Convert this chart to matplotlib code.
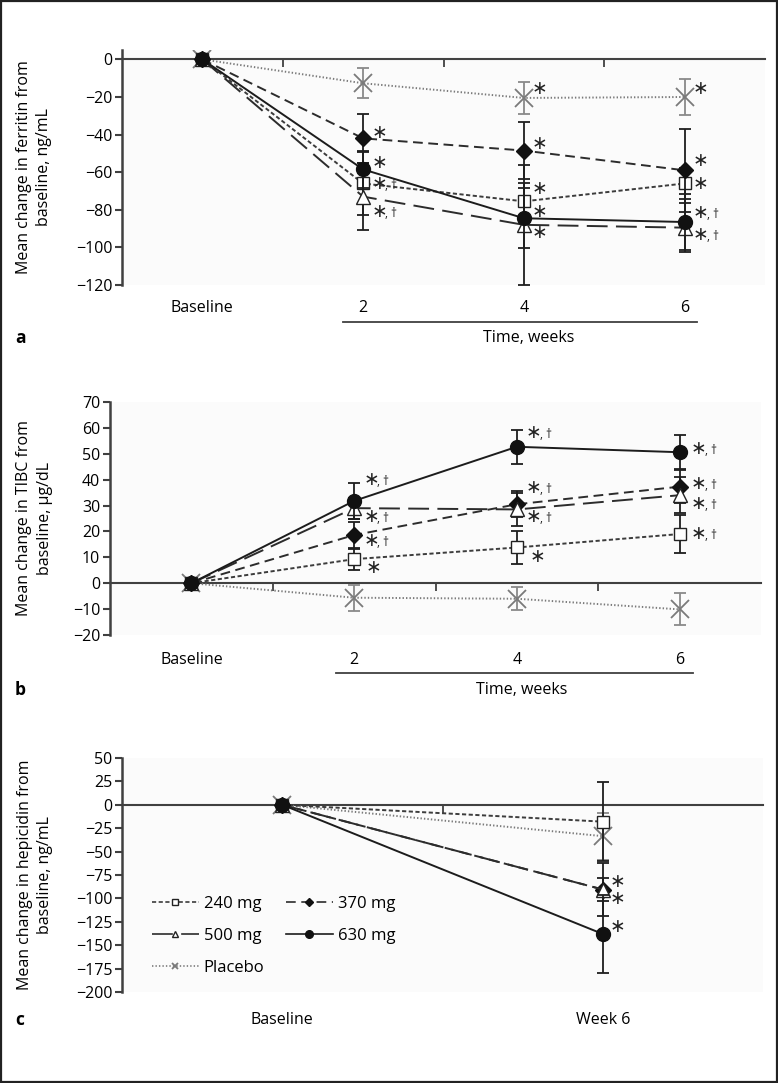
import matplotlib.pyplot as plt
from matplotlib.lines import Line2D
from matplotlib.patches import Rectangle
from matplotlib.transforms import blended_transform_factory

plt.rcParams["font.family"] = ["Open Sans", "DejaVu Sans"]
plt.rcParams["font.size"] = 10
plt.rcParams["lines.scale_dashes"] = False

groups = ["240 mg", "370 mg", "500 mg", "630 mg", "Placebo"]
draw_order = ["Placebo", "240 mg", "370 mg", "500 mg", "630 mg"]

# panel a: ferritin, ng/mL
weeks = ["Baseline", "2", "4", "6"]
ferritin = {
    "240 mg": [0, -66, -75.5, -66],
    "370 mg": [0, -42, -48.5, -59],
    "500 mg": [0, -73, -88, -89.5],
    "630 mg": [0, -58.5, -84.5, -86.5],
    "Placebo": [0, -12.7, -20.5, -20],
}
ferritin_err = {
    "240 mg": [0, 17, 10, 8],
    "370 mg": [0, 13, 15, 22],
    "500 mg": [0, 18, 32, 13],
    "630 mg": [0, 10, 16, 15],
    "Placebo": [0, 8, 8.5, 9.8],
}

# panel b: TIBC, ug/dL
tibc = {
    "240 mg": [0, 9.3, 13.8, 19],
    "370 mg": [0, 18.6, 30.5, 37.3],
    "500 mg": [0, 29, 28.5, 34],
    "630 mg": [0, 31.8, 52.7, 50.6],
    "Placebo": [0, -5.6, -6, -10.1],
}
tibc_err = {
    "240 mg": [0, 4, 6.5, 7.5],
    "370 mg": [0, 5, 5, 6.5],
    "500 mg": [0, 4, 6.5, 7],
    "630 mg": [0, 7, 6.6, 6.5],
    "Placebo": [0, 5, 4.4, 6.2],
}

# panel c: hepcidin, ng/mL
visits = ["Baseline", "Week 6"]
hepcidin = {
    "240 mg": [0, -18],
    "370 mg": [0, -90.5],
    "500 mg": [0, -90.5],
    "630 mg": [0, -138],
    "Placebo": [0, -33.5],
}
hepcidin_err = {
    "240 mg": [0, 42],
    "370 mg": [0, 12],
    "500 mg": [0, 28],
    "630 mg": [0, 41.5],
    "Placebo": [0, 25],
}

# significance marks: (group, visit index, with dagger)
sig_a = [("Placebo", 2, False), ("Placebo", 3, False),
         ("370 mg", 1, False), ("370 mg", 2, False), ("370 mg", 3, False),
         ("630 mg", 1, False), ("630 mg", 2, False), ("630 mg", 3, True),
         ("240 mg", 1, True), ("240 mg", 2, False), ("240 mg", 3, False),
         ("500 mg", 1, True), ("500 mg", 2, False), ("500 mg", 3, True)]
sig_b = [("630 mg", 1, True), ("630 mg", 2, True), ("630 mg", 3, True),
         ("370 mg", 1, True), ("370 mg", 2, True), ("370 mg", 3, True),
         ("500 mg", 1, True), ("500 mg", 2, True), ("500 mg", 3, True),
         ("240 mg", 1, False), ("240 mg", 2, False), ("240 mg", 3, True)]
sig_c = [("500 mg", 1, False), ("370 mg", 1, False), ("630 mg", 1, False)]

# label offsets in pixels (dx, dy down)
offs_a = [(16, -9), (16, -8), (16, -6), (16, -7), (16, -10), (16, -7), (16, -7),
          (16, -10), (16, 0), (16, -13), (16, 0), (16, 15), (16, 8), (16, 7)]
offs_b = [(17, -21), (17, -14), (19, -4), (17, 5), (17, -17), (19, -3),
          (17, 8), (17, 7), (19, 8), (19, 8), (21, 9), (19, -1)]
offs_c = [(15, -8), (15, 9), (15, -7)]

styles = {
    "240 mg": dict(color="#3c3c3c", dashes=(3, 1.8), marker="s", ms=8.5,
                   mfc="white", mec="#222222"),
    "370 mg": dict(color="#2c2c2c", dashes=(7, 4), marker="D", ms=8,
                   mfc="#111111", mec="#111111"),
    "500 mg": dict(color="#2c2c2c", dashes=(15, 6), marker="^", ms=9.5,
                   mfc="white", mec="#222222"),
    "630 mg": dict(color="#1c1c1c", ls="-", marker="o", ms=10,
                   mfc="#111111", mec="#111111"),
    "Placebo": dict(color="#7a7a7a", dashes=(1, 1.5), marker="x", ms=13,
                    mec="#7a7a7a", mew=1.3),
}

AX_COL = "#404040"


def star(ax, x, y, dx, dy, dagger):
    ax.annotate("\u2217", (x, y), xytext=(dx, -dy), textcoords="offset pixels",
                ha="center", va="center", fontsize=13.5, family="DejaVu Sans",
                color="#222222", zorder=5)
    if dagger:
        ax.annotate(", \u2020", (x, y), xytext=(dx + 6, -dy - 2),
                    textcoords="offset pixels", ha="left", va="center",
                    fontsize=8.5, color="#222222", zorder=5)


def panel(fig, rect, cats, data, errs, ylim, yticks, ylabel, label_x,
          sig, offs, label_y, letter, time_line=None, time_y=None):
    ax = fig.add_axes(rect)
    ax.set_facecolor("#fbfbfb")
    x = list(range(len(cats)))
    for z, g in enumerate(draw_order):
        st = dict(styles[g])
        ecol = "#8a8a8a" if g == "Placebo" else "#1e1e1e"
        ax.errorbar(x, data[g], yerr=errs[g], lw=1.4, ecolor=ecol,
                    elinewidth=1.3, capsize=4, capthick=1.3, zorder=3 + z * 0.1,
                    **st)
    for (g, i, dag), (dx, dy) in zip(sig, offs):
        star(ax, i, data[g][i], dx, dy, dag)

    ax.set_xlim(-0.5, len(cats) - 0.5)
    ax.set_ylim(*ylim)
    ax.set_yticks(yticks)
    ax.set_xticks([i + 0.5 for i in range(len(cats) - 1)])
    ax.tick_params(axis="x", direction="out", length=6, width=1.3,
                   color=AX_COL, labelbottom=False)
    ax.tick_params(axis="y", direction="out", length=5, width=1.5,
                   color=AX_COL, labelsize=11.5, pad=2)
    for s in ["top", "right"]:
        ax.spines[s].set_visible(False)
    ax.spines["bottom"].set_position(("data", 0))
    ax.spines["bottom"].set_color(AX_COL)
    ax.spines["bottom"].set_linewidth(1.5)
    ax.spines["left"].set_color(AX_COL)
    ax.spines["left"].set_linewidth(1.8)

    ax.text(label_x, 0.5, ylabel, transform=ax.transAxes, rotation=90,
            ha="center", va="center", fontsize=11.5, linespacing=1.35,
            multialignment="center")

    tr = blended_transform_factory(ax.transData, fig.transFigure)
    for i, c in enumerate(cats):
        ax.text(i, 1 - label_y / 1083, c, transform=tr, ha="center",
                va="center", fontsize=11.5)
    fig.text(15 / 778, 1 - (time_y or label_y) / 1083, letter, fontsize=12.5,
             fontweight="bold", va="center")
    if time_line is not None:
        x0, x1, yl = time_line
        ax.add_line(Line2D([x0, x1], [1 - yl / 1083] * 2, transform=tr,
                           color=AX_COL, lw=1.3, clip_on=False))
        ax.text(2.03, 1 - time_y / 1083, "Time, weeks", transform=tr,
                ha="center", va="center", fontsize=11.5)
    return ax


fig = plt.figure(figsize=(7.78, 10.83), dpi=100)

panel(fig, [122 / 778, 1 - 285 / 1083, 643 / 778, 235 / 1083], weeks,
      ferritin, ferritin_err, (-120, 5), list(range(-120, 1, 20)),
      "Mean change in ferritin from\nbaseline, ng/mL", -0.137,
      sig_a, offs_a, 308, "a", time_line=(0.875, 3.08, 322.5), time_y=338)

panel(fig, [110 / 778, 1 - 635 / 1083, 651 / 778, 233 / 1083], weeks,
      tibc, tibc_err, (-20, 70), list(range(-20, 71, 10)),
      "Mean change in TIBC from\nbaseline, \u03bcg/dL", -0.116,
      sig_b, offs_b, 660, "b", time_line=(0.89, 3.085, 673), time_y=690)

axc = panel(fig, [122 / 778, 1 - 992 / 1083, 641 / 778, 234 / 1083], visits,
            hepcidin, hepcidin_err, (-200, 50), list(range(-200, 51, 25)),
            "Mean change in hepicidin from\nbaseline, ng/mL", -0.136,
            sig_c, offs_c, 1020, "c")

handles = []
for g in groups:
    st = dict(styles[g])
    st["ms"] = {"240 mg": 4.5, "370 mg": 4, "500 mg": 5, "630 mg": 5.5, "Placebo": 5}[g]
    st["lw"] = 1.2
    handles.append(Line2D([], [], **st))
order = [0, 2, 4, 1, 3]
axc.legend([handles[i] for i in order], [groups[i] for i in order], ncol=2,
           loc="upper left", bbox_to_anchor=(152 / 778, 1 - 896 / 1083),
           bbox_transform=fig.transFigure, frameon=False, fontsize=12,
           handlelength=2.8, handletextpad=0.3, columnspacing=1.3,
           labelspacing=0.95, borderpad=0, borderaxespad=0)

fig.add_artist(Rectangle((0.0015, 0.001), 0.997, 0.998, transform=fig.transFigure,
                         fill=False, lw=1.6, ec="#222222"))

fig.savefig("out.png", dpi=100)
